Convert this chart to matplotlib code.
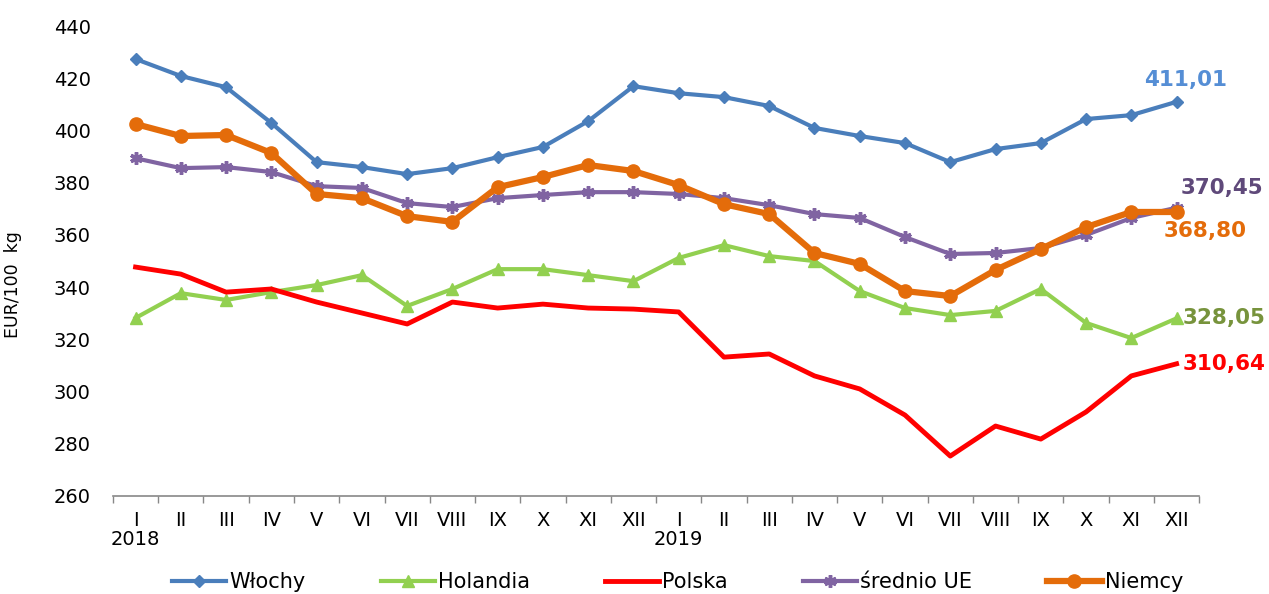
import matplotlib.pyplot as plt
import numpy as np

months = ["I", "II", "III", "IV", "V", "VI", "VII", "VIII", "IX", "X", "XI", "XII"]
labels = [m + ("\n2018" if i == 0 else "") for i, m in enumerate(months)] + \
         [m + ("\n2019" if i == 0 else "") for i, m in enumerate(months)]

wlochy = [427.4, 420.9, 416.6, 402.9, 387.9, 386.0, 383.3, 385.6, 389.8, 393.7, 403.6, 417.0,
          414.3, 412.8, 409.4, 401.0, 397.9, 395.2, 387.9, 392.9, 395.2, 404.4, 405.9, 411.01]
holandia = [328.2, 337.7, 335.1, 338.1, 340.8, 344.6, 332.8, 339.3, 346.9, 346.9, 344.6, 342.3,
            351.2, 356.1, 351.9, 350.0, 338.5, 332.0, 329.3, 330.9, 339.3, 326.3, 320.5, 328.05]
polska = [347.7, 345.0, 338.1, 339.3, 334.3, 330.1, 325.9, 334.3, 332.0, 333.5, 332.0, 331.6,
          330.5, 313.2, 314.4, 306.0, 301.0, 291.0, 275.3, 286.8, 281.8, 292.2, 306.0, 310.64]
srednio = [389.4, 385.6, 386.0, 384.1, 378.7, 378.0, 372.2, 370.7, 374.1, 375.3, 376.4, 376.4,
           375.7, 374.1, 371.4, 368.0, 366.5, 359.2, 352.7, 353.1, 355.0, 360.0, 366.5, 370.45]
niemcy = [402.5, 397.9, 398.3, 391.4, 375.7, 374.1, 367.2, 365.0, 378.3, 382.2, 386.8, 384.5,
          379.1, 371.8, 368.0, 353.1, 348.9, 338.5, 336.6, 346.6, 354.6, 363.0, 368.8, 368.80]

x = np.arange(len(labels))

plt.rcParams['font.family'] = ['DejaVu Sans']
fig = plt.figure(figsize=(12.69, 5.94), dpi=100)
ax = fig.add_axes([0.089, 0.165, 0.856, 0.791])

ax.plot(x, wlochy, color="#4A7EBB", lw=3, marker="D", ms=6.5, label="Włochy")
ax.plot(x, holandia, color="#92D050", lw=3, marker="^", ms=8.5, label="Holandia")
ax.plot(x, polska, color="#FF0000", lw=3.5, label="Polska")
ax.plot(x, srednio, color="#8064A2", lw=3, marker=(6, 2, 0), ms=9, mew=2.5, label="średnio UE")
ax.plot(x, niemcy, color="#E46C0A", lw=4.5, marker="o", ms=9.5, label="Niemcy")

# end labels
lab = dict(fontsize=15.5, fontweight="bold", va="center", textcoords="offset pixels")
ax.annotate("411,01", (23, wlochy[-1]), xytext=(9, 22), ha="center", color="#558ED5", **lab)
ax.annotate("370,45", (23, srednio[-1]), xytext=(4, 20), ha="left", color="#5F497A", **lab)
ax.annotate("368,80", (23, niemcy[-1]), xytext=(29, -19), ha="center", color="#E46C0A", **lab)
ax.annotate("328,05", (23, holandia[-1]), xytext=(6, 0), ha="left", color="#77933C", **lab)
ax.annotate("310,64", (23, polska[-1]), xytext=(6, 0), ha="left", color="#FF0000", **lab)

ax.set_xlim(-0.5, 23.5)
ax.set_ylim(260, 440)
ax.set_yticks(np.arange(260, 441, 20))
ax.tick_params(axis="y", length=0, pad=16, labelsize=14)
ax.set_xticks(x)
ax.set_xticklabels(labels, fontsize=14, linespacing=1.0)
ax.set_xticks(np.arange(-0.5, 24, 1), minor=True)
ax.tick_params(axis="x", which="major", length=0, pad=11)
ax.tick_params(axis="x", which="minor", length=5, color="#888888", width=1)

for s in ["top", "right", "left"]:
    ax.spines[s].set_visible(False)
ax.spines["bottom"].set_color("#888888")
ax.spines["bottom"].set_linewidth(1.2)

ax.set_ylabel("EUR/100  kg", fontsize=12.5)
ax.yaxis.set_label_coords(-0.084, 0.45)

fig.legend(loc="center", bbox_to_anchor=(0.534, 0.02), ncol=5, frameon=False,
           fontsize=15, handlelength=2.6, columnspacing=3.6, handletextpad=0.15)

fig.savefig("out.png", dpi=100)
